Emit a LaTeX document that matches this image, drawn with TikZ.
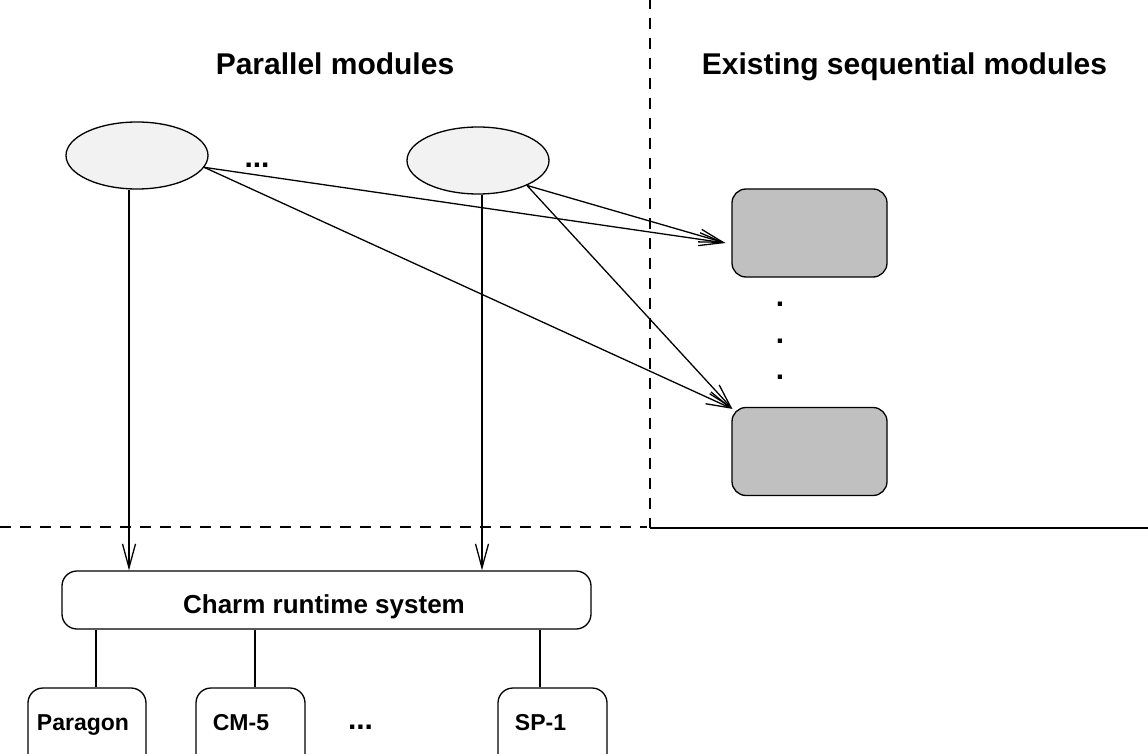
\documentclass[tikz,border=0pt]{standalone}
\usepackage{fontspec}
\setmainfont{Liberation Sans}
\usetikzlibrary{arrows.meta,calc,shapes.geometric}
\definecolor{ellfill}{RGB}{242,242,242}
\definecolor{boxgray}{RGB}{192,192,192}
\begin{document}
\begin{tikzpicture}[x=1pt,y=-1pt,line width=1.3pt,
  arr/.style={-{Straight Barb[length=24pt,width=13pt,line width=1.3pt]}},
  ell/.style={ellipse,draw,fill=ellfill,minimum width=142pt,minimum height=67pt,inner sep=0pt},
  gbox/.style={rectangle,draw,fill=boxgray,rounded corners=14pt,minimum width=155pt,minimum height=88pt,inner sep=0pt},
  wbox/.style={rectangle,draw,fill=white,rounded corners=15pt,inner sep=0pt},
  sepline/.style={dash pattern=on 11pt off 9pt},
  title/.style={font=\fontsize{30}{36}\selectfont\bfseries,anchor=base,inner sep=0pt},
  lbl/.style={font=\fontsize{23}{28}\selectfont\bfseries,anchor=base,inner sep=0pt},
  clbl/.style={font=\fontsize{26}{31}\selectfont\bfseries,anchor=base,inner sep=0pt}]
\useasboundingbox (0,0) rectangle (1148,754);
\clip (0,0) rectangle (1148,754);
% separators
\draw[sepline] (650,-2) -- (650,528);
\draw[sepline] (0,527) -- (647,527);
\draw (650,528) -- (1148,528);
% titles
\node[title] (t1) at (335,75) {Parallel modules};
\node[title] (t2) at (904.5,75) {Existing sequential modules};
% parallel modules
\node[ell] (e1) at (137,155.5) {};
\node[ell] (e2) at (478,160.5) {};
\node[title] (d1) at (257,168) {...};
% sequential modules
\node[gbox] (b1) at (809.5,233) {};
\node[gbox] (b2) at (809.5,451.5) {};
\node[title] (v1) at (780,306) {.};
\node[title] (v2) at (780,343) {.};
\node[title] (v3) at (780,379) {.};
% charm box
\node[wbox,minimum width=529pt,minimum height=58pt] (charm) at (326.5,600) {};
\node[clbl] (cl) at (324,613) {Charm runtime system};
% machine boxes
\node[wbox,minimum width=118pt,minimum height=84pt] (pb) at (87,730) {};
\node[wbox,minimum width=109pt,minimum height=84pt] (cb) at (250.5,730) {};
\node[wbox,minimum width=109pt,minimum height=84pt] (sb) at (552.5,730) {};
\node[lbl] (pl) at (83,730) {Paragon};
\node[lbl] (clb) at (241,730) {CM-5};
\node[lbl] (sl) at (540.5,730) {SP-1};
\node[title] (d2) at (360.5,729) {...};
% arrows to sequential modules
\coordinate (tip1) at ($(b1.west)+(-6,10)$);
\coordinate (tip2) at ($(b2.north west)+(1,2)$);
\draw[arr] (e1.-10) -- (tip1);
\draw[arr] (e1.-10) -- (tip2);
\draw[arr] (e2.-27) -- (tip1);
\draw[arr] (e2.-27) -- (tip2);
% arrows to charm
\draw[arr] ([xshift=-8pt]e1.south) -- ([xshift=-8pt]e1.south |- charm.north);
\draw[arr] ([xshift=4pt]e2.south) -- ([xshift=4pt]e2.south |- charm.north);
% links to machines
\draw ([xshift=9pt]pb.north) -- ([xshift=9pt]pb.north |- charm.south);
\draw ([xshift=4.5pt]cb.north) -- ([xshift=4.5pt]cb.north |- charm.south);
\draw ([xshift=-12.5pt]sb.north) -- ([xshift=-12.5pt]sb.north |- charm.south);
\end{tikzpicture}
\end{document}
